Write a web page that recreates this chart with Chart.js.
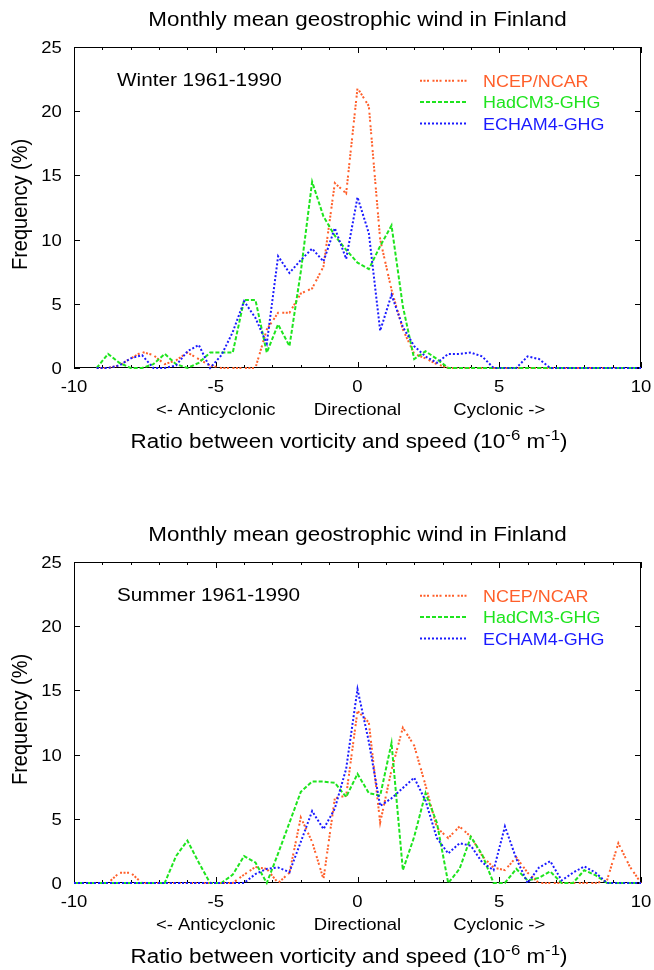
<!DOCTYPE html>
<html>
<head>
<meta charset="utf-8">
<script src="https://cdn.jsdelivr.net/npm/chart.js@4.4.1/dist/chart.umd.min.js"></script>
<style>
  html, body { margin: 0; padding: 0; background: #fff; }
  #wrap { position: relative; width: 654px; height: 970px; }
  canvas { position: absolute; left: 0; }
</style>
</head>
<body>
<div id="wrap">
  <canvas id="winter" width="654" height="485" style="top:0"></canvas>
  <canvas id="summer" width="654" height="485" style="top:485px"></canvas>
</div>
<script>
// ratio between vorticity and speed (10^-6 1/m), bin centres
const ratio = [-10, -9.6, -9.2, -8.8, -8.4, -8, -7.6, -7.2, -6.8, -6.4,
  -6, -5.6, -5.2, -4.8, -4.4, -4, -3.6, -3.2, -2.8, -2.4,
  -2, -1.6, -1.2, -0.8, -0.4, 0, 0.4, 0.8, 1.2, 1.6,
  2, 2.4, 2.8, 3.2, 3.6, 4, 4.4, 4.8, 5.2, 5.6,
  6, 6.4, 6.8, 7.2, 7.6, 8, 8.4, 8.8, 9.2, 9.6, 10];

const seriesNames = ["NCEP/NCAR", "HadCM3-GHG", "ECHAM4-GHG"];

// frequency (%) winter
const winterNcep = [null, null, 0, 0, 0.2, 0.75, 1.25, 1.0, 0.3, 0.6,
  1.2, 0.7, 0.2, 0, 0, 0, 0, 3.0, 4.3, 4.3,
  5.8, 6.2, 7.9, 14.4, 13.6, 21.8, 20.4, 10.0, 6.1, 3.0,
  1.1, 0.75, 0.3, 0, 0, 0, 0, 0, 0, 0,
  0, 0, 0, 0, 0, 0, 0, 0, 0, 0, 0];
const winterHad = [null, null, 0, 1.1, 0.4, 0, 0, 0.3, 1.1, 0.3,
  0, 0.4, 1.2, 1.2, 1.2, 5.3, 5.3, 1.2, 3.4, 1.7,
  7.5, 14.5, 11.8, 10.3, 9.2, 8.2, 7.7, 9.5, 11.1, 4.8,
  0.7, 1.3, 0.7, 0, 0, 0, 0, 0, 0, 0,
  0, 0, 0, 0, 0, 0, 0, 0, 0, 0, 0];
const winterEcham = [null, null, 0, 0, 0.2, 0.75, 1.0, 0, 0, 0.2,
  1.3, 1.8, 0, 1.0, 2.8, 5.2, 3.9, 1.9, 8.7, 7.4,
  8.4, 9.3, 8.3, 10.9, 8.5, 13.3, 10.5, 2.9, 5.7, 3.2,
  1.7, 0.9, 0.4, 1.1, 1.1, 1.2, 0.9, 0, 0, 0,
  0.9, 0.7, 0, 0, 0, 0, 0, 0, 0, 0, 0];

// frequency (%) summer
const summerNcep = [0, 0, 0, 0, 0.8, 0.8, 0, 0, 0, 0,
  0, 0, 0, 0, 0, 0.65, 1.25, 1.1, 0, 0.8,
  5.1, 3.2, 0.3, 6.6, 6.8, 13.4, 12.5, 4.7, 8.8, 12.1,
  10.7, 7.6, 4.3, 3.5, 4.4, 3.6, 2.1, 1.2, 1.0, 2.0,
  0.8, 0, 0, 0, 0, 0, 0, 0.2, 3.1, 1.3, 0];
const summerHad = [0, 0, 0, 0, 0, 0, 0, 0, 0, 2.1,
  3.3, 1.6, 0, 0, 0.65, 2.1, 1.6, 0, 2.3, 4.7,
  7.1, 7.9, 7.9, 7.8, 6.7, 8.5, 7.0, 6.8, 10.9, 1.0,
  3.6, 7.0, 4.7, 0, 1.1, 3.6, 2.2, 0, 0, 1.1,
  0.2, 0.4, 0.9, 0, 0, 1.0, 0.6, 0, 0, 0, 0];
const summerEcham = [0, 0, 0, 0, 0, 0, 0, 0, 0, 0,
  0, 0, 0, 0, 0, 0, 0.7, 1.1, 1.2, 0.85,
  3.2, 5.6, 4.2, 5.8, 8.9, 15.1, 11.0, 6.0, 6.6, 7.4,
  8.2, 6.4, 3.5, 2.3, 3.1, 2.9, 1.6, 1.0, 4.4, 1.9,
  0, 1.2, 1.7, 0.2, 0.8, 1.3, 0.8, 0, 0, 0, 0];

const xTicks = [-10, -5, 0, 5, 10];
const yTicks = [0, 5, 10, 15, 20, 25];
const xSubLabels = ["<- Anticyclonic", "Directional", "Cyclonic ->"];
const xSubLabelAt = [-5, 0, 5];

const FONT = '"Liberation Sans", Arial, Helvetica, sans-serif';
const SX = 1.12; // the original is a bit wide
const colors = ["#ff5f2a", "#1ee41e", "#1a1aff"];
const dashes = [[2, 1.5, 2, 1.5, 2, 3.5], [4, 2], [2, 2]];

function text(ctx, str, x, y, size, align, color) {
  ctx.save();
  ctx.font = size + "px " + FONT;
  ctx.fillStyle = color || "#000";
  ctx.textAlign = align;
  ctx.textBaseline = "alphabetic";
  ctx.translate(x, y);
  ctx.scale(SX, 1);
  ctx.fillText(str, 0, 0);
  ctx.restore();
}

function textWidth(ctx, str, size) {
  ctx.font = size + "px " + FONT;
  return ctx.measureText(str).width * SX;
}

const framePlugin = {
  id: "frame",
  beforeDatasetsDraw(chart) {
    const { ctx, chartArea: a, scales } = chart;
    const xs = scales.x, ys = scales.y;
    ctx.save();
    ctx.strokeStyle = "#000";
    ctx.lineWidth = 1;
    ctx.strokeRect(a.left + 0.5, a.top + 0.5, a.right - a.left - 1, a.bottom - a.top - 1);
    ctx.beginPath();
    for (let v = -10; v <= 10; v++) {
      const px = Math.round(xs.getPixelForValue(v)) + 0.5;
      const len = v % 5 === 0 ? 6 : 3;
      ctx.moveTo(px, a.bottom); ctx.lineTo(px, a.bottom - len);
      ctx.moveTo(px, a.top); ctx.lineTo(px, a.top + len);
    }
    yTicks.forEach(v => {
      const py = Math.round(ys.getPixelForValue(v)) + 0.5;
      ctx.moveTo(a.left, py); ctx.lineTo(a.left + 6, py);
      ctx.moveTo(a.right, py); ctx.lineTo(a.right - 6, py);
    });
    ctx.stroke();
    ctx.restore();
  },
  afterDraw(chart, args, opts) {
    const { ctx, chartArea: a, scales } = chart;
    const xs = scales.x, ys = scales.y;

    text(ctx, "Monthly mean geostrophic wind in Finland", (a.left + a.right) / 2, a.top - 21.3, 20, "center");
    text(ctx, opts.season, 117, a.top + 38.7, 18.5, "left");

    yTicks.forEach(v => text(ctx, String(v), a.left - 12.3, ys.getPixelForValue(v) + 6, 16.5, "right"));
    xTicks.forEach(v => text(ctx, String(v), xs.getPixelForValue(v), a.bottom + 24, 16.5, "center"));
    xSubLabels.forEach((s, i) => text(ctx, s, xs.getPixelForValue(xSubLabelAt[i]), a.bottom + 47, 16.5, "center"));

    // x title with superscripts
    const parts = [["Ratio between vorticity and speed (10", false], ["-6", true], [" m", false], ["-1", true], [")", false]];
    const big = 20, small = 15;
    let total = 0;
    parts.forEach(p => { total += textWidth(ctx, p[0], p[1] ? small : big); });
    let x = 349 - total / 2;
    const base = a.bottom + 80;
    parts.forEach(p => {
      const size = p[1] ? small : big;
      text(ctx, p[0], x, p[1] ? base - 8 : base, size, "left");
      x += textWidth(ctx, p[0], size);
    });

    // y title
    ctx.save();
    ctx.font = "20px " + FONT;
    ctx.fillStyle = "#000";
    ctx.textAlign = "center";
    ctx.textBaseline = "alphabetic";
    ctx.translate(27, (a.top + a.bottom) / 2 - 3);
    ctx.rotate(-Math.PI / 2);
    ctx.scale(1, SX);
    ctx.fillText("Frequency (%)", 0, 0);
    ctx.restore();

    // key
    const keyBase = [39.7, 61, 82.5];
    seriesNames.forEach((name, i) => {
      const yb = a.top + keyBase[i];
      ctx.save();
      ctx.strokeStyle = colors[i];
      ctx.lineWidth = 2;
      ctx.setLineDash(dashes[i]);
      ctx.beginPath();
      ctx.moveTo(a.right - 221, yb - 6);
      ctx.lineTo(a.right - 173, yb - 6);
      ctx.stroke();
      ctx.restore();
      text(ctx, name, a.right - 158, yb, 16, "left", colors[i]);
    });
  }
};

function makeChart(id, season, values, pad) {
  const datasets = values.map((vals, i) => ({
    label: seriesNames[i],
    data: ratio.map((r, j) => ({ x: r, y: vals[j] })),
    borderColor: colors[i],
    borderWidth: 2,
    borderDash: dashes[i],
    borderCapStyle: "butt",
    pointRadius: 0,
    tension: 0,
    fill: false,
    clip: false,
    order: 3 - i,
  }));
  return new Chart(document.getElementById(id), {
    type: "line",
    data: { datasets },
    options: {
      responsive: false,
      animation: false,
      devicePixelRatio: 1,
      layout: { padding: pad },
      scales: {
        x: { type: "linear", min: -10, max: 10, display: false },
        y: { min: 0, max: 25, display: false },
      },
      plugins: {
        legend: { display: false },
        tooltip: { enabled: false },
        frame: { season },
      },
    },
    plugins: [framePlugin],
  });
}

makeChart("winter", "Winter 1961-1990", [winterNcep, winterHad, winterEcham],
  { left: 74, right: 13, top: 47, bottom: 117 });
makeChart("summer", "Summer 1961-1990", [summerNcep, summerHad, summerEcham],
  { left: 74, right: 13, top: 77, bottom: 87 });
</script>
</body>
</html>
